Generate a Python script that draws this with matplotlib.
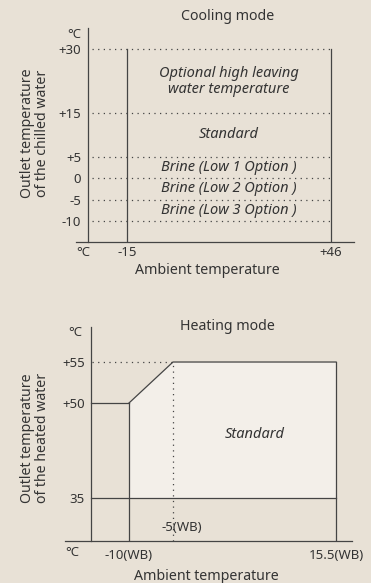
import numpy as np
import matplotlib
matplotlib.use("Agg")
import matplotlib.pyplot as plt

plt.rcParams['font.family'] = ['Noto Sans', 'DejaVu Sans']

# cooling mode limits (deg C)
cool_levels = [30, 15, 5, 0, -5, -10]
cool_level_labels = ['+30', '+15', '+5', '0', '-5', '-10']
cool_bands = ['Optional high leaving\nwater temperature', 'Standard',
              'Brine (Low 1 Option )', 'Brine (Low 2 Option )',
              'Brine (Low 3 Option )']
cool_ambient = [-15, 46]
cool_ambient_labels = ['-15', '+46']

# heating mode envelope (deg C)
heat_ambient = [-10, -5, 15.5]
heat_ambient_labels = ['-10(WB)', '-5(WB)', '15.5(WB)']
heat_levels = [55, 50, 35]
heat_level_labels = ['+55', '+50', '35']

BG = '#e8e1d6'
FILL = '#f3efe9'
LINE = '#444444'
TEXT = '#333333'
DOT = (0, (1, 3.5))

W, H = 371, 583


def fx(x):
    return x / W


def fy(y):
    return 1 - y / H


def piecewise(vals, pos):
    def fwd(v):
        return np.interp(v, vals, pos)

    def inv(p):
        return np.interp(p, pos, vals)
    return fwd, inv


fig = plt.figure(figsize=(W / 100, H / 100), dpi=100, facecolor=BG)

# ---------------- cooling mode ----------------
ax = fig.add_axes([fx(76), fy(242), fx(354 - 76), (242 - 28) / H])
ax.set_facecolor('none')
ax.set_xlim(-30.25, 52.88)
ax.set_ylim(-14.88, 34.88)
y_axis_x = -26.66
for s in ['top', 'right']:
    ax.spines[s].set_visible(False)
ax.spines['left'].set_position(('data', y_axis_x))
for s in ['left', 'bottom']:
    ax.spines[s].set_color(LINE)
    ax.spines[s].set_linewidth(0.9)

ax.set_yticks(cool_levels, cool_level_labels)
ax.set_xticks(cool_ambient, cool_ambient_labels)
ax.tick_params(axis='y', length=0, pad=5, labelsize=9.5, labelcolor=TEXT)
ax.tick_params(axis='x', length=0, pad=3, labelsize=9.5, labelcolor=TEXT)

for lv in cool_levels:
    ax.plot([-25.5, cool_ambient[1]], [lv, lv], color=LINE, lw=0.9,
            ls=DOT)
for xa in cool_ambient:
    ax.plot([xa, xa], [-14.88, cool_levels[0]], color=LINE, lw=0.9)

xmid = np.mean(cool_ambient)
for i, band in enumerate(cool_bands):
    ymid = (cool_levels[i] + cool_levels[i + 1]) / 2
    ax.text(xmid, ymid, band, ha='center', va='center', fontsize=10.5,
            style='italic', color=TEXT, linespacing=1.1)

fig.text(fx(228), fy(17), 'Cooling mode', ha='center', va='center',
         fontsize=10.2, color=TEXT)
fig.text(fx(81), fy(35), '°C', ha='right', va='center', fontsize=9.5,
         color=TEXT)
fig.text(fx(83), fy(253), '°C', ha='center', va='center', fontsize=9.5,
         color=TEXT)
fig.text(fx(207), fy(271), 'Ambient temperature', ha='center',
         va='center', fontsize=10.2, color=TEXT)
fig.text(fx(35), fy(133), 'Outlet temperature\nof the chilled water',
         rotation=90, ha='center', va='center', fontsize=10.2,
         color=TEXT, linespacing=1.05, multialignment='center')

# ---------------- heating mode ----------------
hx = fig.add_axes([fx(65), fy(541), fx(352 - 65), (541 - 327) / H])
hx.set_facecolor('none')
hx.set_xscale('function', functions=piecewise(
    [-40, -10, -5, 15.5, 40], [-135, 129, 173, 336, 530.8]))
hx.set_yscale('function', functions=piecewise(
    [0, 35, 50, 55, 90], [-719.5, -498, -403, -362, -75]))
hx.set_xlim(-17.27, 17.51)
hx.set_ylim(28.21, 59.27)
h_axis_x = -14.32
ybot = 28.21
for s in ['top', 'right']:
    hx.spines[s].set_visible(False)
hx.spines['left'].set_position(('data', h_axis_x))
for s in ['left', 'bottom']:
    hx.spines[s].set_color(LINE)
    hx.spines[s].set_linewidth(0.9)

hx.set_yticks(heat_levels, heat_level_labels)
hx.set_xticks([heat_ambient[0], heat_ambient[2]],
              [heat_ambient_labels[0], heat_ambient_labels[2]])
hx.yaxis.set_minor_locator(matplotlib.ticker.NullLocator())
hx.xaxis.set_minor_locator(matplotlib.ticker.NullLocator())
hx.tick_params(axis='y', length=0, pad=4.5, labelsize=9.5, labelcolor=TEXT)
hx.tick_params(axis='x', length=0, pad=5.5, labelsize=9.5, labelcolor=TEXT)

x_lo, x_knee, x_hi = heat_ambient
t_top, t_knee, t_low = heat_levels
env_x = [x_lo, x_knee, x_hi, x_hi, x_lo, x_lo]
env_y = [t_knee, t_top, t_top, t_low, t_low, t_knee]
hx.fill(env_x, env_y, color=FILL, lw=0)
hx.plot([x_lo, x_knee, x_hi], [t_knee, t_top, t_top], color=LINE, lw=0.9)
hx.plot([h_axis_x, x_lo], [t_knee, t_knee], color=LINE, lw=0.9)
hx.plot([h_axis_x, x_hi], [t_low, t_low], color=LINE, lw=0.9)
hx.plot([x_lo, x_lo], [ybot, t_knee], color=LINE, lw=0.9)
hx.plot([x_hi, x_hi], [ybot, t_top], color=LINE, lw=0.9)
hx.plot([-14.2, x_knee], [t_top, t_top], color=LINE, lw=0.9, ls=DOT)
hx.plot([x_knee, x_knee], [ybot, t_top], color=LINE, lw=0.9, ls=DOT)

hx.annotate(heat_ambient_labels[1], xy=(x_knee, 30.3), xytext=(-8, 0),
            textcoords='offset points', ha='left', va='center',
            fontsize=9.5, color=TEXT)
hx.text((x_knee + x_hi) / 2, (t_top + t_low) / 2, 'Standard',
        ha='center', va='center', fontsize=10.5, style='italic', color=TEXT)

fig.text(fx(227), fy(327), 'Heating mode', ha='center', va='center',
         fontsize=10.2, color=TEXT)
fig.text(fx(82), fy(333), '°C', ha='right', va='center', fontsize=9.5,
         color=TEXT)
fig.text(fx(72), fy(553), '°C', ha='center', va='center', fontsize=9.5,
         color=TEXT)
fig.text(fx(206), fy(576), 'Ambient temperature', ha='center',
         va='center', fontsize=10.2, color=TEXT)
fig.text(fx(35), fy(438), 'Outlet temperature\nof the heated water',
         rotation=90, ha='center', va='center', fontsize=10.2,
         color=TEXT, linespacing=1.05, multialignment='center')

fig.savefig('out.png', dpi=100, facecolor=BG)
